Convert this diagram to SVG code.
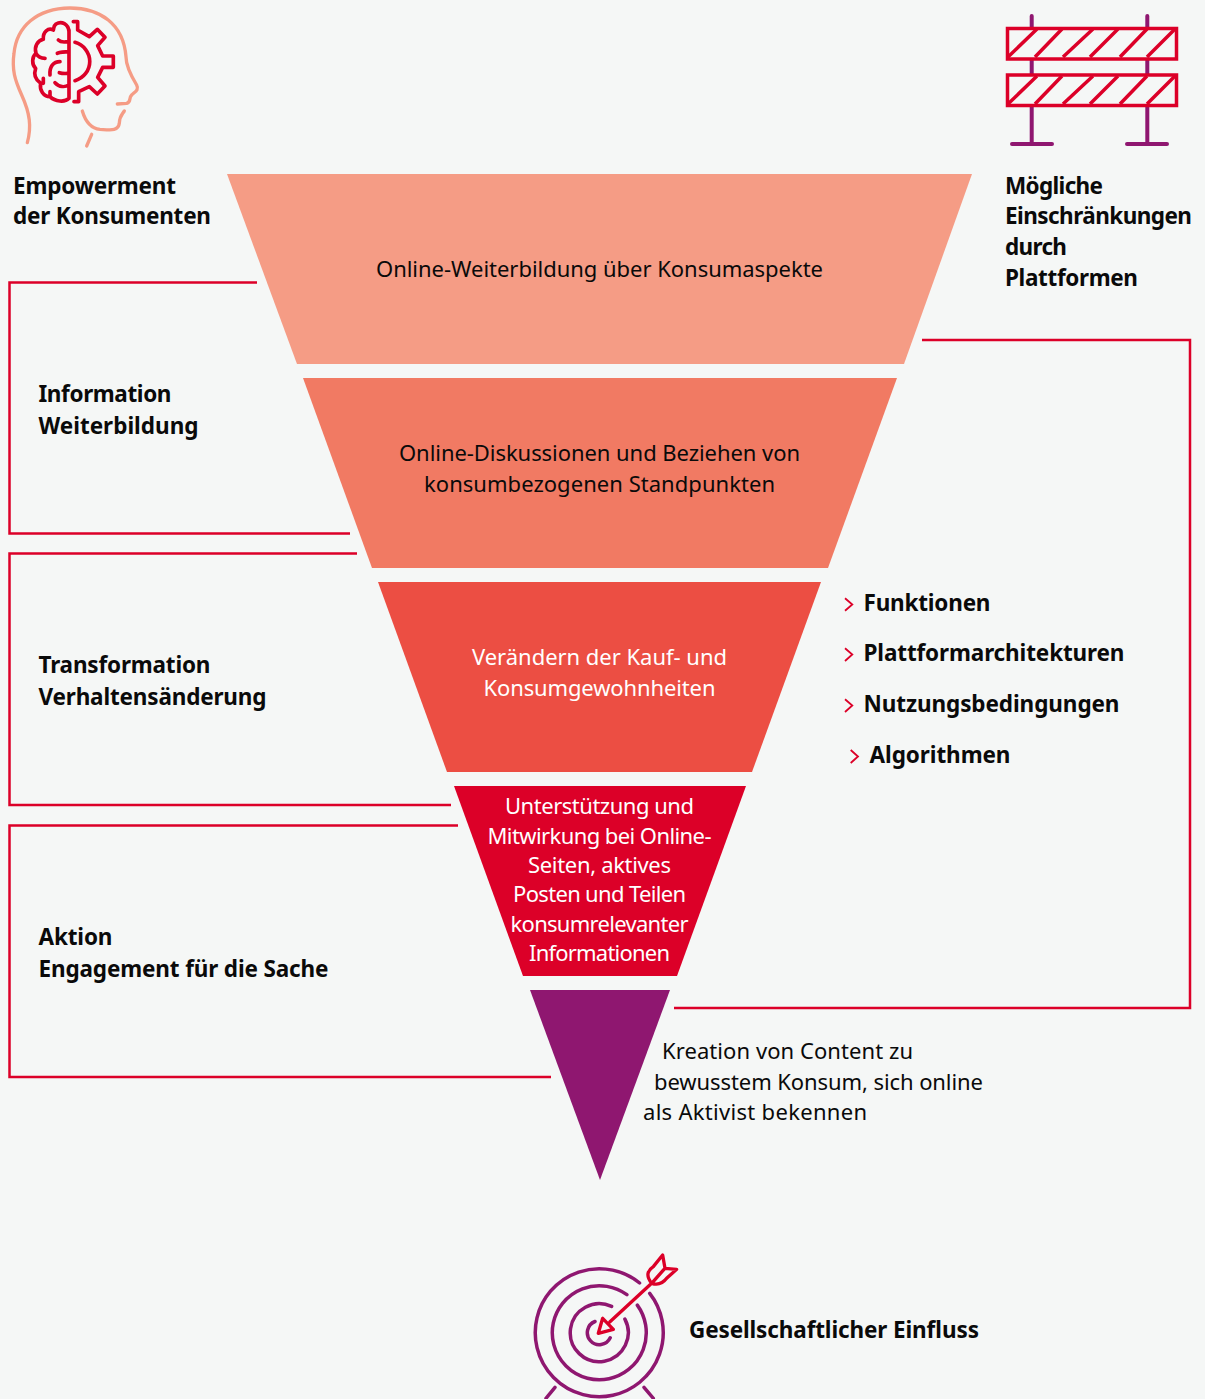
<svg xmlns="http://www.w3.org/2000/svg" width="1205" height="1399" viewBox="0 0 1205 1399">
<style>
text{font-family:"Noto Sans","Open Sans","Liberation Sans",sans-serif;fill:#0a0a0a}
.b{font-weight:700;font-size:22.5px}
.r{font-size:22px}
.c{text-anchor:middle}
text.w{fill:#fff}
.i{fill:none;stroke-linecap:round;stroke-linejoin:round}
.red{stroke:#dc0028}
.pur{stroke:#8f1770}
.br{fill:none;stroke:#dc0028;stroke-width:2.5}
.ch{fill:none;stroke:#dc0028;stroke-width:1.8}
</style>
<rect width="1205" height="1399" fill="#f5f7f6"/>
<g id="connectors">
<path class="br" d="M257 282.500H9.500V533.500H350"/>
<path class="br" d="M357 553.500H9.500V805H451"/>
<path class="br" d="M458 825.500H9.500V1077H551"/>
<path class="br" d="M922 340H1190V1008H674"/>
</g>
<g id="level1"><polygon points="227,174 972,174 904,364 297,364" fill="#f59c85"/><text class="r c" x="599.500" y="277" textLength="447">Online-Weiterbildung über Konsumaspekte</text></g>
<g id="level2"><polygon points="303,378 897,378 828,568 372,568" fill="#f17a63"/><text class="r c" x="599.500" y="461" textLength="401">Online-Diskussionen und Beziehen von</text><text class="r c" x="599.500" y="492" textLength="351">konsumbezogenen Standpunkten</text></g>
<g id="level3"><polygon points="378,582 821,582 752,772 447,772" fill="#ec4e43"/><text class="r c w" x="599.500" y="665" textLength="255">Verändern der Kauf- und</text><text class="r c w" x="599.500" y="696" textLength="232">Konsumgewohnheiten</text></g>
<g id="level4"><polygon points="454,786 746,786 677,976 523,976" fill="#dc0028"/>
<text class="r c w" x="599.500" y="814" textLength="189">Unterstützung und</text><text class="r c w" x="599.500" y="844" textLength="224">Mitwirkung bei Online-</text><text class="r c w" x="599.500" y="873" textLength="143">Seiten, aktives</text><text class="r c w" x="599.500" y="902" textLength="173">Posten und Teilen</text><text class="r c w" x="599.500" y="932" textLength="178">konsumrelevanter</text><text class="r c w" x="599.500" y="961" textLength="141">Informationen</text></g>
<g id="level5"><polygon points="530,990 670,990 600,1180" fill="#8f1770"/>
<text class="r" x="662" y="1059" textLength="251">Kreation von Content zu</text><text class="r" x="654" y="1090" textLength="329">bewusstem Konsum, sich online</text><text class="r" x="643" y="1120" textLength="224">als Aktivist bekennen</text></g>
<g id="empowerment">
<g transform="scale(.3333)">
<path class="i" stroke="#f59c85" stroke-width="10" d="M82 428C95 380 90 340 65 285C45 240 35 210 42 160C50 80 110 25 210 24C300 25 370 70 378 170C378 200 395 230 410 255C418 270 405 275 395 285C385 295 395 305 380 310L352 312M247 333C255 360 270 385 300 388C330 390 355 395 358 370C358 350 365 345 373 333M275 403L260 438"/>
<path class="i red" stroke-width="11" d="M207 90V295M207 95C205 72 185 62 168 72C160 78 162 85 160 90C145 82 128 95 130 118C112 122 102 140 108 160C95 170 95 195 107 205C100 225 108 240 122 250C118 270 130 290 150 290C165 305 195 308 207 295M175 120C185 130 195 125 207 125M172 160C185 155 195 155 207 155M108 160C115 172 125 175 135 175M180 185C160 185 148 200 150 225M178 218C190 222 200 220 207 220M165 248C178 262 195 262 207 255M130 235V250M150 275V290M220 65H233V90L268 110L292 88L315 112L293 137L308 168H340V202H308L293 232L315 258L292 282L268 260L236 275V305H222M225 127A62 60 0 0 1 225 242"/>
</g>
<text class="b" x="13" y="194" textLength="163">Empowerment</text><text class="b" x="13" y="224" textLength="198">der Konsumenten</text></g>
<g id="restrictions">
<path class="i pur" stroke-width="4" d="M1031.700 16V144M1147.300 16V144M1012 144H1052M1127 144H1167"/>
<g fill="#f5f7f6" stroke="#dc0028" stroke-width="3.500"><rect x="1007.500" y="28.500" width="169" height="30.500"/><rect x="1007.500" y="75" width="169" height="30.500"/></g>
<path fill="none" stroke="#dc0028" stroke-width="3.500" d="M1008 57L1037 29M1035 57L1062 29M1063 57L1093 29M1090 57L1118 29M1120 57L1147 29M1147 57L1175 29M1008 104L1037 76M1035 104L1062 76M1063 104L1093 76M1090 104L1118 76M1120 104L1147 76M1147 104L1175 76"/>
<text class="b" x="1005" y="194" textLength="98">Mögliche</text><text class="b" x="1005" y="224" textLength="187">Einschränkungen</text><text class="b" x="1005" y="255" textLength="62">durch</text><text class="b" x="1005" y="286" textLength="133">Plattformen</text></g>
<g id="information"><text class="b" x="38.500" y="402" textLength="133">Information</text><text class="b" x="38.500" y="434" textLength="160">Weiterbildung</text></g>
<g id="transformation"><text class="b" x="38.500" y="673" textLength="172">Transformation</text><text class="b" x="38.500" y="705" textLength="228">Verhaltensänderung</text></g>
<g id="aktion"><text class="b" x="38.500" y="945" textLength="74">Aktion</text><text class="b" x="38.500" y="977" textLength="290">Engagement für die Sache</text></g>
<g id="funktionen"><path class="ch" d="M845 598.300L852.300 604.500L845 610.700"/><text class="b" x="863.500" y="611" textLength="127">Funktionen</text></g>
<g id="plattformarchitekturen"><path class="ch" d="M845 648.300L852.300 654.500L845 661"/><text class="b" x="863.500" y="661" textLength="261">Plattformarchitekturen</text></g>
<g id="nutzungsbedingungen"><path class="ch" d="M845 699.300L852.300 705.500L845 712"/><text class="b" x="863.500" y="712" textLength="256">Nutzungsbedingungen</text></g>
<g id="algorithmen"><path class="ch" d="M850.700 750L858 756.500L850.700 763"/><text class="b" x="869.500" y="763" textLength="141">Algorithmen</text></g>
<g id="einfluss">
<path class="i pur" stroke-width="3.500" d="M649.700 1293.300A64 64 0 1 1 639.600 1283M637.300 1305.100A47 47 0 1 1 626.900 1294.700M624.900 1319.100A29 29 0 1 1 611.600 1306.400M610.200 1337.800A12 12 0 1 1 595 1321.500M555 1387.300L546 1398.300M644 1387.300L653.300 1398.300"/>
<g transform="translate(510 1240) scale(.3333)"><path class="i red" stroke-width="10" d="M425 130L300 245M265 280L310 268L278 235ZM425 130C405 105 415 90 430 80L458 45L465 85L500 88L470 115C455 135 440 135 425 130ZM425 130L462 88"/></g>
<text class="b" x="689" y="1338" textLength="290">Gesellschaftlicher Einfluss</text></g>
</svg>
